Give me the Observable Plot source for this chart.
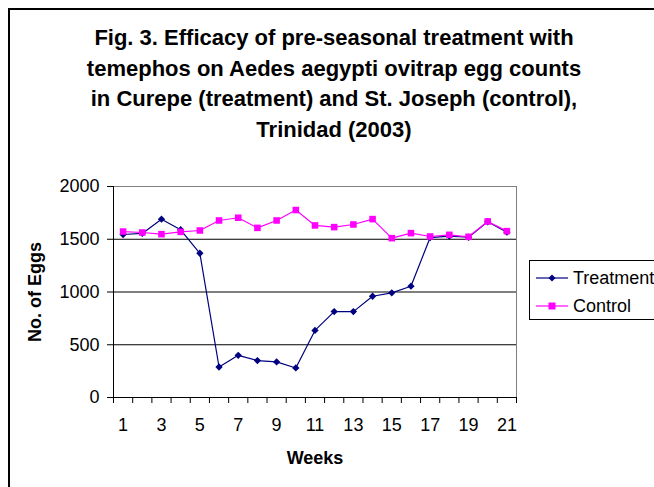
<!DOCTYPE html>
<html>
<head>
<meta charset="utf-8">
<script src="https://cdn.jsdelivr.net/npm/d3@7"></script>
<script src="https://cdn.jsdelivr.net/npm/@observablehq/plot@0.6"></script>
<style>
  html, body { margin: 0; padding: 0; background: #fff; }
  body { width: 654px; height: 487px; overflow: hidden; position: relative; font-family: Arial, "Liberation Sans", sans-serif; color: #000; }
  #border { position: absolute; left: 8px; top: 8px; width: 800px; height: 800px; border-left: 2px solid #000; border-top: 2px solid #000; }
  #title { position: absolute; left: 7px; top: 23px; width: 654px; text-align: center; font-weight: bold; font-size: 22px; line-height: 30.5px; }
  #chart { position: absolute; left: 0; top: 150px; }
  #legend { position: absolute; left: 529px; top: 260px; width: 150px; height: 58px; border: 1px solid #000; background: #fff; font-size: 18px; }
  .entry { position: absolute; left: 6px; height: 20px; display: flex; align-items: center; }
  .entry span { margin-left: 5px; }
</style>
</head>
<body>
<div id="border"></div>
<div id="title">Fig. 3. Efficacy of pre-seasonal treatment with<br>temephos on Aedes aegypti ovitrap egg counts<br>in Curepe (treatment) and St. Joseph (control),<br>Trinidad (2003)</div>
<div id="chart"></div>
<div id="legend"></div>
<script>
const weeks = [1,2,3,4,5,6,7,8,9,10,11,12,13,14,15,16,17,18,19,20,21];
const treatment = [1545,1555,1690,1590,1367,289,400,350,337,280,636,814,814,960,992,1055,1516,1529,1519,1666,1567];
const control = [1573,1564,1548,1570,1583,1678,1704,1608,1678,1777,1631,1615,1640,1691,1510,1558,1526,1542,1523,1669,1577];
const yTicks = [0,500,1000,1500,2000];
const gridValues = [500,1000,1500];
const xTickLabels = [1,3,5,7,9,11,13,15,17,19,21];
const seriesNames = ["Treatment","Control"];
const seriesColors = ["#000080","#FF00FF"];

const treatData = weeks.map((w,i) => ({week: w, eggs: treatment[i]}));
const ctrlData = weeks.map((w,i) => ({week: w, eggs: control[i]}));
// category boundaries for tick marks
const edges = [weeks[0] - 0.5, ...weeks.map(w => w + 0.5)];

const chart = Plot.plot({
  width: 654,
  height: 337,
  marginTop: 36,
  marginBottom: 90,
  marginLeft: 113,
  marginRight: 138,
  style: {fontFamily: "Arial, 'Liberation Sans', sans-serif", fontSize: "18px", color: "#000", background: "transparent", overflow: "visible"},
  x: {domain: [edges[0], edges[edges.length - 1]]},
  y: {domain: [0, 2000]},
  marks: [
    Plot.frame({stroke: "#808080"}),
    Plot.ruleY(gridValues, {stroke: "#000"}),
    Plot.ruleX([edges[0]], {stroke: "#000"}),
    Plot.ruleY([0], {stroke: "#000"}),
    Plot.axisY({ticks: yTicks, tickSize: 6, tickPadding: 8, label: null, tickFormat: d => String(d)}),
    Plot.axisX({ticks: edges, tickSize: 6, tickFormat: () => "", label: null}),
    Plot.axisX({ticks: xTickLabels, tickSize: 0, tickPadding: 21, label: null, tickFormat: d => String(d)}),
    Plot.line(treatData, {x: "week", y: "eggs", stroke: seriesColors[0], strokeWidth: 1.2}),
    Plot.dot(treatData, {x: "week", y: "eggs", symbol: "diamond2", r: 3.3, fill: seriesColors[0], stroke: "none"}),
    Plot.line(ctrlData, {x: "week", y: "eggs", stroke: seriesColors[1], strokeWidth: 1.2}),
    Plot.dot(ctrlData, {x: "week", y: "eggs", symbol: "square", r: 3.7, fill: seriesColors[1], stroke: "none"}),
    Plot.text(["Weeks"], {text: d => d, frameAnchor: "bottom", textAnchor: "middle", lineAnchor: "middle", dy: 61, fontWeight: "bold", fontSize: 18}),
    Plot.text(["No. of Eggs"], {text: d => d, frameAnchor: "left", textAnchor: "middle", lineAnchor: "middle", dx: -78, rotate: -90, fontWeight: "bold", fontSize: 18})
  ]
});
document.getElementById("chart").appendChild(chart);

// legend
const legend = document.getElementById("legend");
const symbols = ["diamond", "square"];
seriesNames.forEach((name, i) => {
  const e = document.createElement("div");
  e.className = "entry";
  e.style.top = (i === 0 ? 7 : 35) + "px";
  const c = seriesColors[i];
  const marker = symbols[i] === "diamond"
    ? `<polygon points="16,6.5 19.5,10 16,13.5 12.5,10" fill="${c}"/>`
    : `<rect x="12.5" y="6.5" width="7" height="7" fill="${c}"/>`;
  e.innerHTML = `<svg width="32" height="20"><line x1="0" x2="32" y1="10" y2="10" stroke="${c}" stroke-width="1.2"/>${marker}</svg><span>${name}</span>`;
  legend.appendChild(e);
});
</script>
</body>
</html>
